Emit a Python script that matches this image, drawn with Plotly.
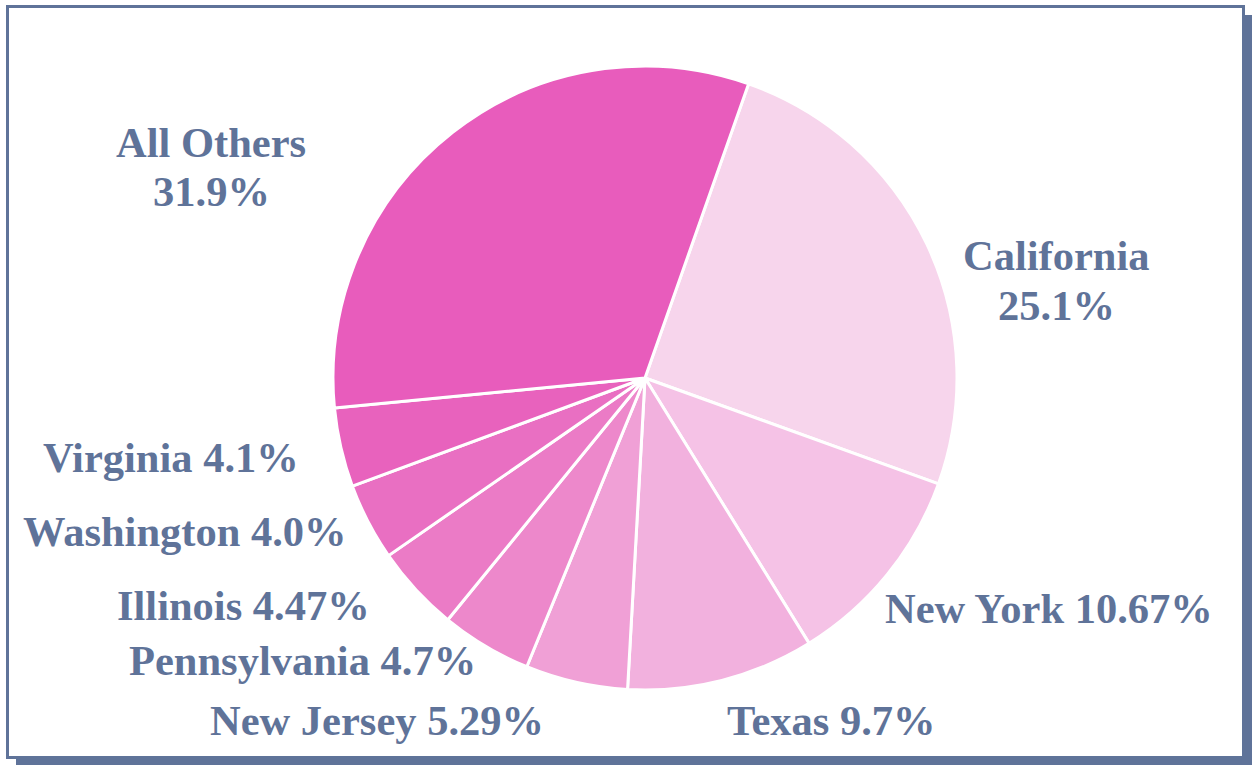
import plotly.graph_objects as go

# ---- data ----
states = ["California", "New York", "Texas", "New Jersey", "Pennsylvania",
          "Illinois", "Washington", "Virginia", "All Others"]
shares = [25.1, 10.67, 9.7, 5.29, 4.7, 4.47, 4.0, 4.1, 31.9]
share_text = ["25.1", "10.67", "9.7", "5.29", "4.7", "4.47", "4.0", "4.1", "31.9"]

# ---- style ----
slice_colors = ["#f7d5ec", "#f5c2e6", "#f2b1de", "#f0a0d6", "#ed88cb",
                "#eb7bc6", "#e96fc2", "#e862bd", "#e85cbc"]
text_color = "#5f7399"
W, H = 1252, 765
FONT = "Liberation Serif, Times New Roman, Times, serif"
LINE_GAP = 49

# label placement in pixels: (center x, center y of label block, two-line?)
label_pos = {
    "California": (1056, 280.5, True),
    "New York": (1049, 608, False),
    "Texas": (831, 720, False),
    "New Jersey": (377, 720, False),
    "Pennsylvania": (302, 660, False),
    "Illinois": (243, 605, False),
    "Washington": (185, 531, False),
    "Virginia": (171, 457, False),
    "All Others": (211, 166.5, True),
}

cx, cy, r = 645, 378, 312

fig = go.Figure(go.Pie(
    labels=states,
    values=shares,
    sort=False,
    direction="clockwise",
    rotation=19.4,
    marker=dict(colors=slice_colors, line=dict(color="white", width=3)),
    textinfo="none",
    hoverinfo="label+percent",
    showlegend=False,
    domain=dict(x=[(cx - r) / W, (cx + r) / W],
                y=[1 - (cy + r) / H, 1 - (cy - r) / H]),
))

def px(x):
    return x / W

def py(y):
    return 1 - y / H

annotations = []
for name, val in zip(states, share_text):
    x, y, two = label_pos[name]
    if two:
        lines = [(name, y - LINE_GAP / 2), (val + "%", y + LINE_GAP / 2)]
    else:
        lines = [(name + " " + val + "%", y)]
    for t, yy in lines:
        annotations.append(dict(
            x=px(x), y=py(yy), xref="paper", yref="paper",
            text="<b>" + t + "</b>", showarrow=False,
            xanchor="center", yanchor="middle",
            font=dict(family=FONT, size=42.5, color=text_color),
        ))

shapes = [
    # shadow
    dict(type="rect", xref="paper", yref="paper", layer="below",
         x0=px(16), x1=px(1252), y0=py(765), y1=py(15),
         fillcolor=text_color, line=dict(width=0)),
    # frame
    dict(type="rect", xref="paper", yref="paper", layer="below",
         x0=px(7.5), x1=px(1243.5), y0=py(757.5), y1=py(6.5),
         fillcolor="white", line=dict(color=text_color, width=3)),
]

fig.update_layout(
    width=W, height=H,
    margin=dict(l=0, r=0, t=0, b=0),
    paper_bgcolor="white",
    plot_bgcolor="white",
    shapes=shapes,
    annotations=annotations,
    font=dict(family=FONT),
)

fig.write_html("out.html",
               config={"displayModeBar": False},
               post_script="document.body.style.margin='0';"
                           "document.body.style.overflow='hidden';")
